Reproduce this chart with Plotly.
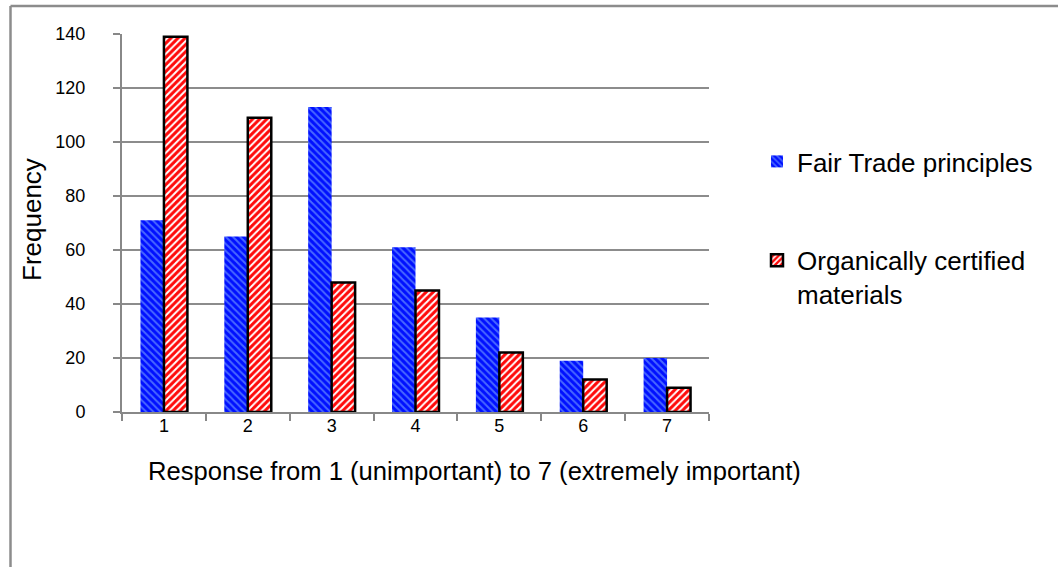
import plotly.graph_objects as go

categories = ["1", "2", "3", "4", "5", "6", "7"]
fair_trade = [71, 65, 113, 61, 35, 19, 20]
organic = [139, 109, 48, 45, 22, 12, 9]
series_names = ["Fair Trade principles", "Organically certified<br>materials"]
y_ticks = [0, 20, 40, 60, 80, 100, 120, 140]
x_title = "Response from 1 (unimportant) to 7 (extremely important)"
y_title = "Frequency"

W, H = 1058, 567
L, R, T, B = 122, 349, 34, 155
pw, ph = W - L - R, H - T - B

def px_x(x):
    return (x - L) / pw

def px_y(y):
    return (H - B - y) / ph

fig = go.Figure()
fig.add_trace(go.Bar(
    x=categories, y=fair_trade, name=series_names[0], legendgroup="a",
    marker=dict(color="#0010ff", line=dict(width=0),
                pattern=dict(shape="\\", fgcolor="#4868ff", bgcolor="#0010ff",
                             size=5, solidity=0.4, fillmode="replace")),
))
fig.add_trace(go.Bar(
    x=categories, y=organic, name=series_names[1], legendgroup="b",
    marker=dict(color="#ff0000", line=dict(width=2.5, color="black"),
                pattern=dict(shape="/", fgcolor="#ffffff", bgcolor="#ff0a0a",
                             size=5, solidity=0.4, fillmode="replace")),
))

font = "Liberation Sans, Arial, sans-serif"
fig.update_layout(
    width=W, height=H,
    margin=dict(l=L, r=R, t=T, b=B, pad=0),
    paper_bgcolor="white", plot_bgcolor="white",
    barmode="group", bargap=0.44, bargroupgap=0,
    font=dict(family=font, size=18, color="black"),
    legend=dict(x=px_x(757), y=px_y(138), xanchor="left", yanchor="top",
                font=dict(size=26, family=font), tracegroupgap=62,
                itemwidth=30, valign="top", bgcolor="rgba(0,0,0,0)"),
    xaxis=dict(
        tickson="boundaries", ticks="outside", ticklen=7, tickcolor="#888888",
        tickwidth=2,
        showline=True, linecolor="#888888", linewidth=2,
        showgrid=False,
        tickfont=dict(size=18),
        ticklabelstandoff=-4,
    ),
    yaxis=dict(
        range=[0, 140], tickvals=y_ticks, ticks="outside", ticklen=7,
        tickcolor="#888888", tickwidth=2,
        showline=True, linecolor="#888888", linewidth=2,
        showgrid=True, gridcolor="#8c8c8c", gridwidth=2,
        zeroline=False,
        tickfont=dict(size=18),
        ticklabelstandoff=24,
    ),
    annotations=[
        dict(text=x_title, xref="paper", yref="paper", x=px_x(474), y=px_y(471),
             xanchor="center", yanchor="middle", showarrow=False,
             font=dict(size=25.6, family=font)),
        dict(text=y_title, xref="paper", yref="paper", x=px_x(32), y=px_y(220),
             xanchor="center", yanchor="middle", showarrow=False, textangle=-90,
             font=dict(size=26, family=font)),
    ],
    shapes=[
        dict(type="line", xref="paper", yref="paper",
             x0=px_x(10.5), x1=px_x(10.5), y0=px_y(H + 5), y1=px_y(6),
             line=dict(color="#8c8c8c", width=2.5)),
        dict(type="line", xref="paper", yref="paper",
             x0=px_x(10.5), x1=px_x(W + 5), y0=px_y(6), y1=px_y(6),
             line=dict(color="#8c8c8c", width=2.5)),
    ],
)

fig.write_html("out.html", config={"displayModeBar": False},
               post_script="document.body.style.margin='0';")
